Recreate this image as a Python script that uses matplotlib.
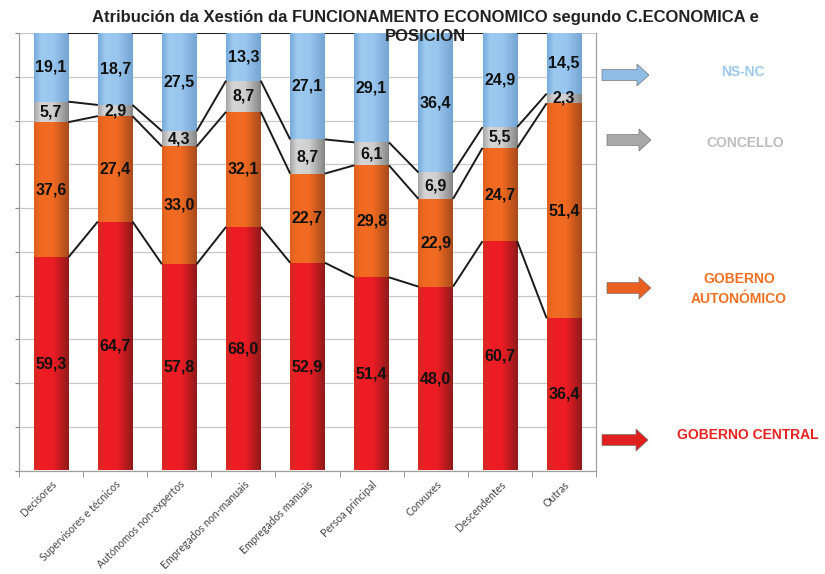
import numpy as np
import matplotlib
matplotlib.use("Agg")
import matplotlib.pyplot as plt
import matplotlib.transforms as mtransforms
from matplotlib.colors import LinearSegmentedColormap
from matplotlib.patches import FancyArrow

categories = ["Decisores", "Supervisores e técnicos", "Autónomos non-expertos",
              "Empregados non-manuais", "Empregados manuais", "Persoa principal",
              "Conxuxes", "Descendentes", "Outras"]
goberno_central = [59.3, 64.7, 57.8, 68.0, 52.9, 51.4, 48.0, 60.7, 36.4]
goberno_autonomico = [37.6, 27.4, 33.0, 32.1, 22.7, 29.8, 22.9, 24.7, 51.4]
concello = [5.7, 2.9, 4.3, 8.7, 8.7, 6.1, 6.9, 5.5, 2.3]
ns_nc = [19.1, 18.7, 27.5, 13.3, 27.1, 29.1, 36.4, 24.9, 14.5]
series_names = ["GOBERNO CENTRAL", "GOBERNO\nAUTONÓMICO", "CONCELLO", "NS-NC"]
title = "Atribución da Xestión da FUNCIONAMENTO ECONOMICO segundo C.ECONOMICA e\nPOSICION"

series = [goberno_central, goberno_autonomico, concello, ns_nc]
grads = [
    ["#d42a22", "#ee1d25", "#ec1c24", "#8e1b1b"],
    ["#e0601e", "#f26b22", "#f06a21", "#a84a1c"],
    ["#a6a6a6", "#d6d6d6", "#cfcfcf", "#858585"],
    ["#78aadb", "#9ccaf0", "#98c6ee", "#77a5d2"],
]
legend_cols = ["#e01f1f", "#ea6020", "#a8a8a8", "#8fbde6"]
text_cols = ["#e8231f", "#f07020", "#bdbdbd", "#9cc8ee"]

fig = plt.figure(figsize=(8.25, 5.74), dpi=100)
W, H = 825, 574
left_px, right_px, top_px, bot_px = 19, 596, 33, 470.5
ax = fig.add_axes([left_px / W, 1 - bot_px / H, (right_px - left_px) / W, (bot_px - top_px) / H])

data = np.array(series, dtype=float)
totals = data.sum(axis=0)
norm = data / totals * 100
cum = np.vstack([np.zeros(len(categories)), np.cumsum(norm, axis=0)])
x = np.arange(len(categories))
bw = 0.54

for s in range(len(series)):
    cmap = LinearSegmentedColormap.from_list("g%d" % s, list(zip([0, 0.2, 0.55, 1.0], grads[s])))
    grad = cmap(np.linspace(0, 1, 64))[None, :, :3]
    for i in range(len(categories)):
        y0, y1 = cum[s, i], cum[s + 1, i]
        ax.imshow(grad, extent=[x[i] - bw / 2, x[i] + bw / 2, y0, y1], aspect="auto",
                  interpolation="bilinear", zorder=2)
        ax.text(x[i], (y0 + y1) / 2, f"{series[s][i]:.1f}".replace(".", ","),
                ha="center", va="center", fontsize=11.5, fontweight="bold",
                family=["Liberation Sans", "DejaVu Sans"], color="#111111", zorder=5)

# series lines
for s in range(1, len(series) + 1):
    for i in range(len(categories) - 1):
        ax.plot([x[i] + bw / 2, x[i + 1] - bw / 2], [cum[s, i], cum[s, i + 1]],
                color="#1a1a1a", lw=1.4, zorder=3, solid_capstyle="butt")

ax.set_xlim(-0.5, len(categories) - 0.5)
ax.set_ylim(0, 100)
ax.set_yticks(np.arange(0, 101, 10))
ax.set_yticklabels([])
ax.grid(axis="y", color="#c8c8c8", lw=0.9, zorder=0)
ax.set_axisbelow(True)
ax.tick_params(axis="y", length=3, color="#888888", direction="out")
ax.set_xticks(x)
ax.set_xticklabels(categories, rotation=45, ha="right", rotation_mode="anchor",
                   fontsize=7.6, color="#444444", family=["Lato", "DejaVu Sans"])
shift = mtransforms.ScaledTranslation(-5 / 100, 0, fig.dpi_scale_trans)
for lab in ax.get_xticklabels():
    lab.set_transform(lab.get_transform() + shift)
ax.set_xticks(np.arange(-0.5, len(categories)), minor=True)
ax.tick_params(axis="x", which="major", length=0, pad=6)
ax.tick_params(axis="x", which="minor", length=4, color="#888888")
for sp in ["top"]:
    ax.spines[sp].set_visible(False)
for sp in ["left", "bottom", "right"]:
    ax.spines[sp].set_color("#a0a0a0")
    ax.spines[sp].set_linewidth(0.9)

fig.text(425 / W, 1 - 27 / H, title, ha="center", va="center", fontsize=12,
         fontweight="bold", family=["Liberation Sans Narrow", "Liberation Sans", "DejaVu Sans"],
         color="#222222", linespacing=1.35)

# legend arrows and labels (top to bottom order in figure)
arrow_y = [440, 288, 140, 75]
arrow_x0 = [602, 607, 607, 602]
arrow_x1 = [648, 651, 651, 649]
text_y = [435, 289, 143, 72]
text_x = [748, 739, 745, 743]
for s in range(len(series)):
    x0 = arrow_x0[s] / W
    length = (arrow_x1[s] - arrow_x0[s]) / W
    yy = 1 - arrow_y[s] / H
    arr = FancyArrow(x0, yy, length, 0, width=11 / H, head_width=22 / H,
                     head_length=12 / W, length_includes_head=True,
                     transform=fig.transFigure, facecolor=legend_cols[s],
                     edgecolor="#777777", lw=0.5)
    fig.patches.append(arr)
    fig.text(text_x[s] / W, 1 - text_y[s] / H, series_names[s], ha="center", va="center",
             fontsize=10, fontweight="bold", color=text_cols[s],
             family=["Liberation Sans", "DejaVu Sans"], linespacing=1.5)

fig.savefig("out.png", dpi=100)
